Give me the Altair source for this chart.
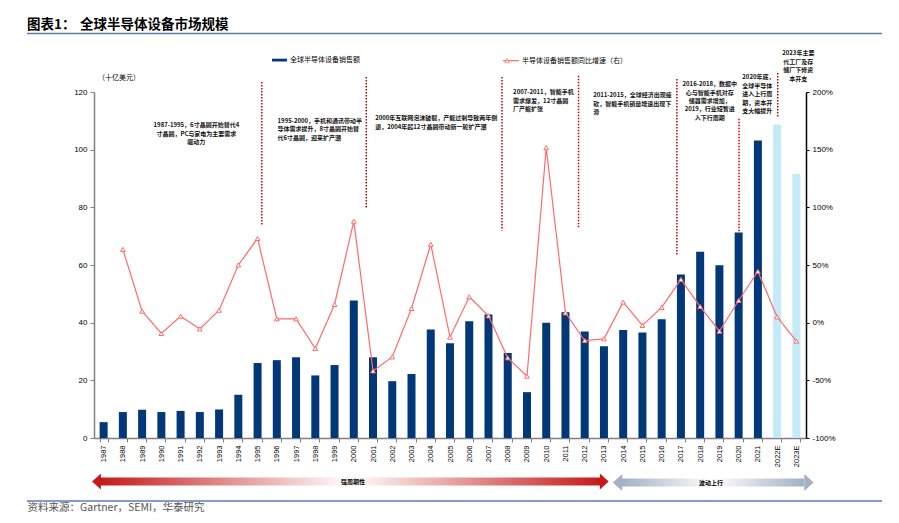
import altair as alt
import pandas as pd

# ---------------- data ----------------
years = ["1987", "1988", "1989", "1990", "1991", "1992", "1993", "1994", "1995", "1996",
         "1997", "1998", "1999", "2000", "2001", "2002", "2003", "2004", "2005", "2006",
         "2007", "2008", "2009", "2010", "2011", "2012", "2013", "2014", "2015", "2016",
         "2017", "2018", "2019", "2020", "2021", "2022E", "2023E"]
sales = [5.5, 9.0, 9.8, 9.0, 9.4, 9.0, 9.9, 15.0, 26.0, 27.0,
         28.0, 21.7, 25.3, 47.7, 28.0, 19.7, 22.2, 37.6, 32.9, 40.5,
         42.8, 29.5, 15.9, 40.0, 43.6, 36.9, 31.8, 37.5, 36.6, 41.2,
         56.7, 64.6, 59.9, 71.3, 103.2, 108.6, 91.6]
growth = [None, 0.635, 0.10, -0.094, 0.056, -0.054, 0.108, 0.50, 0.73, 0.033,
          0.033, -0.224, 0.158, 0.88, -0.418, -0.297, 0.123, 0.68, -0.126, 0.224,
          0.059, -0.305, -0.464, 1.517, 0.085, -0.155, -0.14, 0.178, -0.024, 0.132,
          0.375, 0.14, -0.074, 0.192, 0.444, 0.05, -0.16]
kinds = ["actual"] * 35 + ["estimate"] * 2

# divider lines: position in category index units, top / bottom in left-axis units
div_idx = [8.22, 13.65, 20.70, 24.68, 29.79, 33.02, 35.03]
div_top = [123.5, 125.2, 125.2, 125.6, 124.5, 110.7, 126.6]
div_bot = [73.5, 79.8, 72.0, 72.8, 63.2, 71.4, 111.0]

# annotation lines: (index position, left-axis height, text, align)
ann_idx = [4.82, 4.82, 4.82,
           9.04, 9.04, 9.04,
           14.11, 14.11,
           21.28, 21.28, 21.28,
           25.44, 25.44, 25.44,
           31.5, 31.5, 31.5, 31.5, 31.5,
           33.19, 33.19, 33.19, 33.19, 33.19,
           36.1, 36.1, 36.1, 36.1]
ann_y = [108.6, 105.6, 102.7,
         110.1, 107.2, 104.2,
         110.9, 107.9,
         120.0, 117.0, 114.0,
         119.0, 116.0, 113.1,
         122.7, 119.8, 116.9, 114.0, 111.1,
         125.1, 122.2, 119.2, 116.2, 113.3,
         133.5, 130.5, 127.6, 124.6]
ann_text = ["1987-1995，6寸晶圆开始替代4", "寸晶圆，PC与家电为主要需求", "驱动力",
            "1995-2000，手机和通讯带动半", "导体需求提升，8寸晶圆开始替", "代6寸晶圆，迎来扩产潮",
            "2000年互联网泡沫破裂，产能过剩导致两年倒", "退，2004年起12寸晶圆带动新一轮扩产潮",
            "2007-2011，智能手机", "需求爆发，12寸晶圆", "厂产能扩张",
            "2011-2015，全球经济出现疲", "软，智能手机销量增速出现下", "滑",
            "2016-2018，数据中", "心与智能手机对存", "储器需求增加，", "2019，行业短暂进", "入下行周期",
            "2020年底，", "全球半导体", "进入上行周", "期，资本开", "支大幅提升",
            "2023年主要", "代工厂及存", "储厂下修资", "本开支"]
ann_align = (["center"] * 3 + ["left"] * 3 + ["left"] * 2 + ["left"] * 3 + ["left"] * 3
             + ["center"] * 5 + ["left"] * 5 + ["center"] * 4)

# ---------------- style ----------------
NAVY = "#023878"
LIGHT = "#C4EAFA"
LINE_RED = "#FF6B6B"
DIV_RED = "#C00000"
RULE_BLUE = "#5B7DB1"
FONT = "Liberation Sans, Noto Sans CJK SC"
CJK = "Noto Sans CJK SC, Liberation Sans"

W, H = 712, 346
PL, PT = 86, 84          # padding -> plot origin at page (94, 92)
OX, OY = PL + 8, PT + 8  # page coords of plot origin
TOTAL_W, TOTAL_H = 883, 507

df = pd.DataFrame({"year": years, "sales": sales, "growth": growth, "kind": kinds})
df_line = df[df["growth"].notna()]

xband = alt.Scale(type="band", domain=years, paddingInner=0.584, paddingOuter=0.292)
xq = alt.Scale(domain=[-0.5, len(years) - 0.5], nice=False, zero=False)
yl = alt.Scale(domain=[0, 120], nice=False, zero=False)

bars = alt.Chart(df).mark_bar().encode(
    x=alt.X("year:N", scale=xband, sort=years, title=None,
            axis=alt.Axis(tickBand="extent", labelAngle=-90, labelFont=FONT, labelFontSize=7.5,
                          labelColor="black", labelPadding=3, domainColor="#808080",
                          domainWidth=1.5, tickColor="#808080", tickSize=4, tickWidth=1)),
    y=alt.Y("sales:Q", scale=yl, title=None,
            axis=alt.Axis(values=[0, 20, 40, 60, 80, 100, 120], labelFont=FONT, labelFontSize=8,
                          labelColor="black", labelPadding=3, domainColor="#808080",
                          domainWidth=1.5, tickColor="#808080", tickSize=4, grid=False)),
    color=alt.Color("kind:N", scale=alt.Scale(domain=["actual", "estimate"], range=[NAVY, LIGHT]),
                    legend=None),
)

line = alt.Chart(df_line).mark_line(
    color=LINE_RED, strokeWidth=1.2,
    point=alt.OverlayMarkDef(shape="triangle-up", filled=True, fill="white", stroke=LINE_RED,
                             size=22, strokeWidth=1),
).encode(
    x=alt.X("year:N", scale=xband, sort=years, axis=None),
    y=alt.Y("growth:Q", scale=alt.Scale(domain=[-1, 2], nice=False, zero=False), title=None,
            axis=alt.Axis(orient="right", values=[-1, -0.5, 0, 0.5, 1, 1.5, 2],
                          labelExpr="(datum.value < 0 ? '-' : '') + abs(round(datum.value*100)) + '%'",
                          labelFont=FONT, labelFontSize=8, labelColor="black", labelPadding=3,
                          domainColor="black", domainWidth=1.5, tickColor="black", tickSize=3,
                          grid=False)),
)

df_div = pd.DataFrame({"idx": div_idx, "top": div_top, "bot": div_bot})
dividers = alt.Chart(df_div).mark_rule(color=DIV_RED, strokeDash=[1.5, 1.5], strokeWidth=1.5).encode(
    x=alt.X("idx:Q", scale=xq, axis=None),
    y=alt.Y("top:Q", scale=yl, axis=None),
    y2="bot:Q",
)

df_ann = pd.DataFrame({"idx": ann_idx, "yv": ann_y, "text": ann_text, "align": ann_align})


def ann_layer(al):
    return alt.Chart(df_ann[df_ann["align"] == al]).mark_text(
        align=al, baseline="middle", font=CJK, fontSize=6, fontWeight="bold", color="#111111"
    ).encode(
        x=alt.X("idx:Q", scale=xq, axis=None),
        y=alt.Y("yv:Q", scale=yl, axis=None),
        text="text:N",
    )


one = pd.DataFrame({"a": [0]})


def txt(s, px, py, size, weight="normal", color="black", align="left", font=CJK):
    return alt.Chart(one).mark_text(
        text=s, fontSize=size, fontWeight=weight, color=color, align=align,
        baseline="middle", font=font
    ).encode(x=alt.value(px - OX), y=alt.value(py - OY))


def hrule(x1, x2, y, color, width):
    return alt.Chart(one).mark_rule(color=color, strokeWidth=width).encode(
        x=alt.value(x1 - OX), x2=alt.value(x2 - OX), y=alt.value(y - OY))


def rect(x1, x2, y1, y2, fill):
    return alt.Chart(one).mark_rect(fill=fill, stroke=None).encode(
        x=alt.value(x1 - OX), x2=alt.value(x2 - OX), y=alt.value(y1 - OY), y2=alt.value(y2 - OY))


def head(px, py, direction, color, size):
    path = "M-0.55,0L0.55,-1L0.55,1Z" if direction == "left" else "M0.55,0L-0.55,-1L-0.55,1Z"
    return alt.Chart(one).mark_point(shape=path, size=size, filled=True, fill=color,
                                     opacity=1, strokeWidth=0).encode(
        x=alt.value(px - OX), y=alt.value(py - OY))


def grad(c_end, c_mid):
    return alt.LinearGradient(
        gradient="linear", x1=0, x2=1, y1=0, y2=0,
        stops=[alt.GradientStop(offset=0, color=c_end),
               alt.GradientStop(offset=0.5, color=c_mid),
               alt.GradientStop(offset=1, color=c_end)])


RED_END = "#C41A1A"
GRAY_END = "#A4B0C4"

decor = [
    txt("图表1：", 27, 25, 13.5, "bold"),
    txt("全球半导体设备市场规模", 80, 25, 13.5, "bold"),
    hrule(27, 882, 33.5, RULE_BLUE, 1.5),
    txt("（十亿美元）", 98, 78, 7),
    rect(272, 287, 58.7, 61.5, NAVY),
    txt("全球半导体设备销售额", 290, 60, 7),
    hrule(503, 519, 60.7, LINE_RED, 1.2),
    alt.Chart(one).mark_point(shape="triangle-up", size=22, filled=True, fill="white",
                              stroke=LINE_RED, strokeWidth=1).encode(
        x=alt.value(507 - OX), y=alt.value(60.7 - OY)),
    txt("半导体设备销售额同比增速（右）", 522, 60.7, 7),
    # bottom arrows
    rect(100, 600, 477.5, 485.5, grad(RED_END, "#FFFFFF")),
    head(96.5, 481.5, "left", RED_END, 256),
    head(604.3, 481.5, "right", RED_END, 256),
    txt("强周期性", 353, 481.5, 6, "bold", align="center"),
    rect(622, 804, 478.5, 486.5, grad(GRAY_END, "#FFFFFF")),
    head(617.6, 482.5, "left", GRAY_END, 289),
    head(809, 482.5, "right", GRAY_END, 289),
    txt("波动上行", 711, 482.5, 6, "bold", align="center"),
    hrule(27, 882, 501, RULE_BLUE, 1.5),
    txt("资料来源：Gartner，SEMI，华泰研究", 27.5, 508, 10.5, color="#555555"),
]

chart = alt.layer(
    dividers, bars, line, ann_layer("left"), ann_layer("center"), *decor
).resolve_scale(
    x="independent", y="independent"
).properties(
    width=W, height=H,
    autosize=alt.AutoSizeParams(type="none"),
    padding={"left": PL, "top": PT, "right": TOTAL_W - PL - W, "bottom": TOTAL_H - PT - H},
).configure_view(stroke=None)

chart.save("out.html", embed_options={"renderer": "svg", "actions": False})
